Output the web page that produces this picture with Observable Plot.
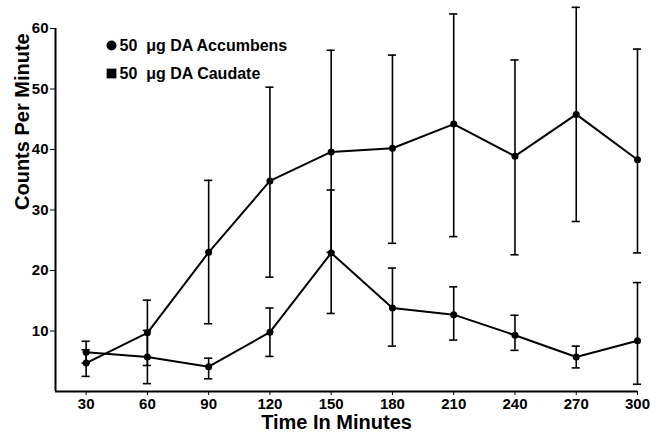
<!DOCTYPE html>
<html>
<head>
<meta charset="utf-8">
<script src="https://cdn.jsdelivr.net/npm/d3@7"></script>
<script src="https://cdn.jsdelivr.net/npm/@observablehq/plot@0.6"></script>
<style>
  html, body { margin: 0; padding: 0; background: white; }
  #chart { width: 661px; height: 433px; }
  #chart svg text { font-weight: bold; }
</style>
</head>
<body>
<div id="chart"></div>
<script>
// Time points (minutes)
const times = [30, 60, 90, 120, 150, 180, 210, 240, 270, 300];
// 50 µg DA Accumbens
const accMean = [4.7, 9.7, 23.0, 34.8, 39.6, 40.2, 44.2, 38.9, 45.8, 38.3];
const accLow  = [2.5, 4.3, 11.2, 18.9, 23.0, 24.5, 25.6, 22.6, 28.1, 22.9];
const accHigh = [6.9, 15.1, 34.9, 50.3, 56.4, 55.6, 62.4, 54.8, 63.5, 56.6];
// 50 µg DA Caudate
const cauMean = [6.5, 5.7, 4.1, 9.8, 22.9, 13.8, 12.7, 9.3, 5.7, 8.4];
const cauLow  = [4.7, 1.3, 2.1, 5.8, 12.9, 7.5, 8.5, 6.8, 3.9, 1.2];
const cauHigh = [8.3, 10.1, 5.5, 13.8, 33.3, 20.4, 17.3, 12.6, 7.5, 18.0];
// Axis ticks and labels
const yTicks = [10, 20, 30, 40, 50, 60];
const xTitle = "Time In Minutes";
const yTitle = "Counts Per Minute";
const legendLabels = ["50\u00a0 \u03bcg DA Accumbens", "50\u00a0 \u03bcg DA Caudate"];

const mk = (mean, low, high) => times.map((t, i) => ({t, mean: mean[i], low: low[i], high: high[i]}));
const acc = mk(accMean, accLow, accHigh);
const cau = mk(cauMean, cauLow, cauHigh);
const capHalf = 2;

function seriesMarks(data) {
  return [
    Plot.ruleX(data, {x: "t", y1: "low", y2: "high", stroke: "black", strokeWidth: 1.6}),
    Plot.ruleY(data, {y: "low", x1: d => d.t - capHalf, x2: d => d.t + capHalf, stroke: "black", strokeWidth: 1.6}),
    Plot.ruleY(data, {y: "high", x1: d => d.t - capHalf, x2: d => d.t + capHalf, stroke: "black", strokeWidth: 1.6}),
    Plot.line(data, {x: "t", y: "mean", stroke: "black", strokeWidth: 2}),
    Plot.dot(data, {x: "t", y: "mean", r: 3.5, fill: "black"})
  ];
}

const chart = Plot.plot({
  width: 661,
  height: 433,
  marginLeft: 55,
  marginRight: 24,
  marginTop: 28,
  marginBottom: 42,
  style: {fontFamily: "'Liberation Sans', Arial, sans-serif", fontWeight: "bold", fontSize: "15px", color: "black", background: "white"},
  x: {domain: [15, 300], ticks: times, tickSize: 4, tickPadding: 3, label: null, tickFormat: d => String(d)},
  y: {domain: [0, 60], ticks: yTicks, tickSize: 5, tickPadding: 2, label: null},
  marks: [
    Plot.ruleY([0], {stroke: "black", strokeWidth: 2}),
    Plot.ruleX([15], {stroke: "black", strokeWidth: 2}),
    ...seriesMarks(cau),
    ...seriesMarks(acc),
    Plot.text([xTitle], {frameAnchor: "bottom", lineAnchor: "bottom", dy: 37, dx: -10, fontSize: 20, fontWeight: "bold", fill: "black"}),
    Plot.text([yTitle], {frameAnchor: "left", rotate: -90, dx: -33, fontSize: 20, fontWeight: "bold", fill: "black"}),
    Plot.dot([legendLabels[0]], {frameAnchor: "top-left", dx: 56, dy: 17, r: 5, fill: "black", symbol: "circle"}),
    Plot.dot([legendLabels[1]], {frameAnchor: "top-left", dx: 56, dy: 45, r: 5.5, fill: "black", symbol: "square"}),
    Plot.text([legendLabels[0]], {frameAnchor: "top-left", dx: 64, dy: 17, text: d => d, textAnchor: "start", lineAnchor: "middle", fontSize: 16, fontWeight: "bold", fill: "black"}),
    Plot.text([legendLabels[1]], {frameAnchor: "top-left", dx: 64, dy: 45, text: d => d, textAnchor: "start", lineAnchor: "middle", fontSize: 16, fontWeight: "bold", fill: "black"})
  ]
});
document.getElementById("chart").appendChild(chart);
</script>
</body>
</html>
